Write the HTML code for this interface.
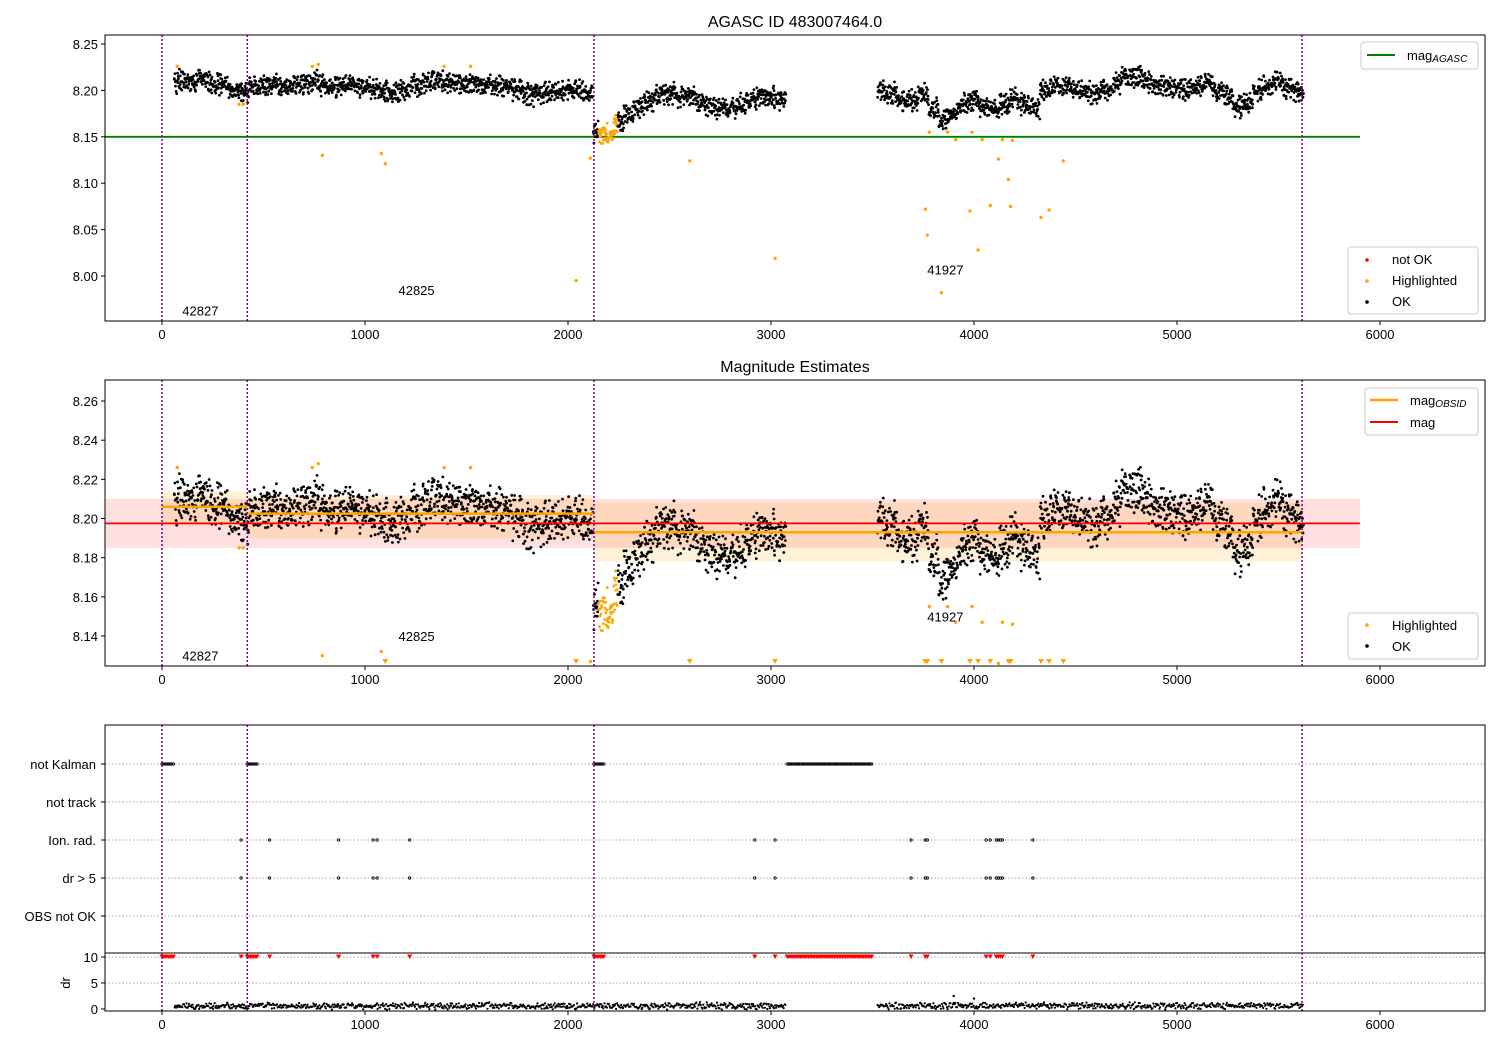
<!DOCTYPE html>
<html><head><meta charset="utf-8"><style>
body{margin:0;background:#fff;}
svg{font-family:"Liberation Sans","DejaVu Sans",sans-serif;}
</style></head><body>
<svg id="chart" width="1500" height="1050" xmlns="http://www.w3.org/2000/svg">
<rect width="1500" height="1050" fill="#fff"/>
</svg>
<script>
// ---- data ----
const knotX = [50,100,150,200,250,300,350,400,450,500,550,600,650,700,750,800,850,900,950,1000,1050,1100,1150,1200,1250,1300,1350,1400,1450,1500,1550,1600,1650,1700,1750,1800,1850,1900,1950,2000,2050,2100,2150,2200,2250,2300,2350,2400,2450,2500,2550,2600,2650,2700,2750,2800,2850,2900,2950,3000,3050,3550,3600,3650,3700,3750,3800,3850,3900,3950,4000,4050,4100,4150,4200,4250,4300,4350,4400,4450,4500,4550,4600,4650,4700,4750,4800,4850,4900,4950,5000,5050,5100,5150,5200,5250,5300,5350,5400,5450,5500,5550,5600];
const knotMag = [8.208,8.210,8.209,8.210,8.208,8.206,8.200,8.199,8.203,8.205,8.206,8.204,8.206,8.208,8.210,8.206,8.203,8.205,8.206,8.203,8.200,8.200,8.199,8.202,8.205,8.208,8.210,8.210,8.207,8.208,8.207,8.205,8.204,8.203,8.200,8.196,8.195,8.197,8.199,8.200,8.199,8.197,8.155,8.152,8.165,8.175,8.182,8.188,8.196,8.197,8.193,8.196,8.188,8.185,8.180,8.182,8.185,8.190,8.192,8.193,8.190,8.200,8.196,8.190,8.190,8.195,8.180,8.168,8.175,8.185,8.188,8.182,8.180,8.185,8.192,8.185,8.180,8.200,8.205,8.203,8.200,8.198,8.196,8.200,8.208,8.215,8.214,8.210,8.205,8.203,8.202,8.200,8.205,8.208,8.200,8.195,8.182,8.185,8.200,8.205,8.207,8.203,8.198];
const highlightRange = [2150, 2245];
const outlierX = [75,740,770,790,1080,1100,1390,1520,2040,2600,3020,3760,3770,3780,3840,3870,3910,3980,3990,4020,4040,4080,4120,4140,4170,4180,4190,4330,4370,4440,380,400,2110];
const outlierMag = [8.226,8.226,8.228,8.130,8.132,8.121,8.226,8.226,7.995,8.124,8.019,8.072,8.044,8.155,7.982,8.155,8.147,8.070,8.155,8.028,8.147,8.076,8.126,8.147,8.104,8.075,8.146,8.063,8.071,8.124,8.185,8.185,8.127];
const obsStart = [0,420,2128];
const obsEnd = [420,2128,5620];
const obsMag = [8.206,8.2025,8.193];
const obsLo = [8.196,8.190,8.178];
const obsHi = [8.214,8.212,8.208];
const obsIds = ["42827","42825","41927"];
const obsLabelX = [100,1165,3770];
const obsLabelMag1 = [7.963,7.985,8.007];
const obsLabelMag2 = [8.130,8.140,8.150];
const agascMag = 8.15;
const meanMag = 8.1975, meanLo = 8.185, meanHi = 8.21;
const kalmanStart = [0,420,2128,3080];
const kalmanEnd = [60,470,2180,3500];
const ionX = [390,530,870,1040,1060,1220,2920,3020,3690,3760,3770,4060,4080,4110,4120,4130,4140,4290];
const drBigX = [3900,4000];
const drBigV = [2.5,2.0];
const categories = ["not Kalman","not track","Ion. rad.","dr > 5","OBS not OK"];
const xTicks = [0,1000,2000,3000,4000,5000,6000];
const y1Ticks = [8.00,8.05,8.10,8.15,8.20,8.25];
const y2Ticks = [8.14,8.16,8.18,8.20,8.22,8.24,8.26];
const drTicks = [0,5,10];

// ---- scales ----
const L=105,R=1485;
const xs = v => 162 + v*0.203;
const y1 = v => 276 - (v-8.00)*928;
const y2 = v => 636 - (v-8.14)*1958.3;
const yc = i => 764 + i*38;
const yd = v => 1009 - v*5.2;
const svg = document.getElementById('chart');
const NS='http://www.w3.org/2000/svg';
function mk(tag, attrs, parent){const e=document.createElementNS(NS,tag);for(const k in attrs)e.setAttribute(k,attrs[k]);(parent||svg).appendChild(e);return e;}
function txt(s,x,y,attrs,parent){const e=mk('text',Object.assign({x:x,y:y,'font-size':13,fill:'#000'},attrs||{}),parent);e.textContent=s;return e;}
function h(k){const s=Math.sin(k*12.9898+78.233)*43758.5453;return s-Math.floor(s);}
function noise(k){return (h(k)+h(k+101.7))-1;} // deterministic texture in [-1,1]

const defs=mk('defs',{});
[[35,321,'c1'],[380,666,'c2'],[725,1011,'c3']].forEach(a=>{const cp=mk('clipPath',{id:a[2]},defs);mk('rect',{x:L,y:a[0],width:R-L,height:a[1]-a[0]},cp);});

function xAxis(top,bottom){
  xTicks.forEach(t=>{const x=xs(t);mk('line',{x1:x,x2:x,y1:bottom,y2:bottom+4,stroke:'#000'});
    const e=txt(String(t),x,bottom+18,{'text-anchor':'middle'});});
}
function vlines(top,bottom,g){
  [0,420,2128,5616].forEach(v=>mk('line',{x1:xs(v),x2:xs(v),y1:top,y2:bottom,stroke:'purple','stroke-width':1.5,'stroke-dasharray':'2,2'},g));
}
function drawScatter(g,ys,r){
  knotX.forEach((kx,i)=>{
    const n = 30;
    for(let s=0;s<n;s++){
      const xv=kx-25+s*(50/n)+ (h(i*97+s)-0.5)*1.5;
      if(xv<60) continue;
      const k=i*131+s*7.3;
      const v=knotMag[i]+0.0135*noise(k);
      const hl = xv>=highlightRange[0]&&xv<=highlightRange[1];
      mk('circle',{cx:xs(xv).toFixed(1),cy:ys(v).toFixed(1),r:r,fill:hl?'orange':'#000'},g);
    }
  });
}

// ====== Panel 1 ======
const g1=mk('g',{'clip-path':'url(#c1)'});


mk('line',{x1:xs(-281),x2:xs(5901),y1:y1(agascMag),y2:y1(agascMag),stroke:'green','stroke-width':1.8},g1);
drawScatter(g1,y1,1.4);
outlierX.forEach((x,i)=>{const c=mk('circle',{cx:xs(x),cy:y1(outlierMag[i]),r:1.7,fill:'orange'},g1);});
vlines(35,321,g1);
obsIds.forEach((s,i)=>txt(s,xs(obsLabelX[i]),y1(obsLabelMag1[i])+5,{},g1));
mk('rect',{x:L,y:35,width:R-L,height:286,fill:'none',stroke:'#000'});
y1Ticks.forEach(t=>{const y=y1(t);mk('line',{x1:L-4,x2:L,y1:y,y2:y,stroke:'#000'});txt(t.toFixed(2),L-7,y+5,{'text-anchor':'end'});});
xAxis(35,321);
txt('AGASC ID 483007464.0',795,27,{'text-anchor':'middle','font-size':16});
let lg=mk('g',{});
mk('rect',{x:1361,y:42,width:117,height:27,rx:3,fill:'#fff',stroke:'#ccc'},lg);
mk('line',{x1:1367,x2:1395,y1:55,y2:55,stroke:'green','stroke-width':2},lg);
let t=txt('mag',1407,60,{},lg);let ts=mk('tspan',{'font-size':10,'font-style':'italic',dy:2},t);ts.textContent='AGASC';
lg=mk('g',{});
mk('rect',{x:1348,y:247,width:130,height:67,rx:3,fill:'#fff',stroke:'#ccc'},lg);
[['not OK','red'],['Highlighted','orange'],['OK','#000']].forEach((a,i)=>{mk('circle',{cx:1367,cy:260+i*21,r:1.8,fill:a[1]},lg);txt(a[0],1392,264+i*21,{},lg);});

// ====== Panel 2 ======
const g2=mk('g',{'clip-path':'url(#c2)'});


mk('rect',{x:xs(-281),y:y2(meanHi),width:xs(5901)-xs(-281),height:y2(meanLo)-y2(meanHi),fill:'red','fill-opacity':0.12},g2);
obsStart.forEach((s,i)=>{mk('rect',{x:xs(s),y:y2(obsHi[i]),width:xs(obsEnd[i])-xs(s),height:y2(obsLo[i])-y2(obsHi[i]),fill:'orange','fill-opacity':0.15},g2);});
drawScatter(g2,y2,1.4);
outlierX.forEach((x,i)=>{
  const v=outlierMag[i];
  if(v<8.1247){const X=xs(x),Y=664;const p=mk('polygon',{points:`${X-3},${Y-5} ${X+3},${Y-5} ${X},${Y}`,fill:'orange'},g2);}
  else{mk('circle',{cx:xs(x),cy:y2(v),r:1.7,fill:'orange'},g2);}
});
obsStart.forEach((s,i)=>{const l=mk('line',{x1:xs(s),x2:xs(obsEnd[i]),y1:y2(obsMag[i]),y2:y2(obsMag[i]),stroke:'orange','stroke-width':2.5},g2);});
mk('line',{x1:xs(-281),x2:xs(5901),y1:y2(meanMag),y2:y2(meanMag),stroke:'red','stroke-width':1.8},g2);
vlines(380,666,g2);
obsIds.forEach((s,i)=>txt(s,xs(obsLabelX[i]),y2(obsLabelMag2[i])+5,{},g2));
mk('rect',{x:L,y:380,width:R-L,height:286,fill:'none',stroke:'#000'});
y2Ticks.forEach(t=>{const y=y2(t);mk('line',{x1:L-4,x2:L,y1:y,y2:y,stroke:'#000'});txt(t.toFixed(2),L-7,y+5,{'text-anchor':'end'});});
xAxis(380,666);
txt('Magnitude Estimates',795,372,{'text-anchor':'middle','font-size':16});
lg=mk('g',{});
mk('rect',{x:1365,y:388,width:113,height:47,rx:3,fill:'#fff',stroke:'#ccc'},lg);
mk('line',{x1:1370,x2:1398,y1:400,y2:400,stroke:'orange','stroke-width':2.5},lg);
t=txt('mag',1410,405,{},lg);ts=mk('tspan',{'font-size':10,'font-style':'italic',dy:2},t);ts.textContent='OBSID';
mk('line',{x1:1370,x2:1398,y1:422,y2:422,stroke:'red','stroke-width':2},lg);
txt('mag',1410,427,{},lg);
lg=mk('g',{});
mk('rect',{x:1348,y:613,width:130,height:46,rx:3,fill:'#fff',stroke:'#ccc'},lg);
[['Highlighted','orange'],['OK','#000']].forEach((a,i)=>{mk('circle',{cx:1367,cy:625+i*21,r:1.8,fill:a[1]},lg);txt(a[0],1392,630+i*21,{},lg);});

// ====== Panel 3 ======
const g3=mk('g',{'clip-path':'url(#c3)'});


categories.forEach((c,i)=>{mk('line',{x1:L,x2:R,y1:yc(i),y2:yc(i),stroke:'#aaa','stroke-dasharray':'1.5,2'},g3);
  const e=txt(c,96,yc(i)+5,{'text-anchor':'end'});});
[5,10].forEach(v=>mk('line',{x1:L,x2:R,y1:yd(v),y2:yd(v),stroke:'#aaa','stroke-dasharray':'1.5,2'},g3));
mk('line',{x1:L,x2:R,y1:953,y2:953,stroke:'#000'},g3);
function tri(X,Y,g){mk('polygon',{points:`${X-2.5},${Y-2.5} ${X+2.5},${Y-2.5} ${X},${Y+2}`,fill:'red'},g);}
kalmanStart.forEach((s,i)=>{for(let x=s;x<=kalmanEnd[i];x+=8){mk('circle',{cx:xs(x),cy:yc(0),r:1.2,fill:'none',stroke:'#000','stroke-width':0.8},g3);tri(xs(x),yd(10),g3);}});
ionX.forEach(x=>{[2,3].forEach(i=>mk('circle',{cx:xs(x),cy:yc(i),r:1.2,fill:'none',stroke:'#000','stroke-width':0.8},g3));tri(xs(x),yd(10),g3);});
knotX.forEach((kx,i)=>{for(let s=0;s<12;s++){const xv=kx-25+s*(50/12)+(h(i*53+s)-0.5)*2;if(xv<60)continue;const v=0.6+0.75*noise(i*71+s*3.1);
  mk('circle',{cx:xs(xv).toFixed(1),cy:yd(v).toFixed(1),r:1.1,fill:'#000'},g3);}});
drBigX.forEach((x,i)=>mk('circle',{cx:xs(x),cy:yd(drBigV[i]),r:1.2,fill:'#000'},g3));
vlines(725,1011,g3);
mk('rect',{x:L,y:725,width:R-L,height:286,fill:'none',stroke:'#000'});
drTicks.forEach(t=>{const y=yd(t);mk('line',{x1:L-4,x2:L,y1:y,y2:y,stroke:'#000'});txt(String(t),L-7,y+5,{'text-anchor':'end'});});
categories.forEach((c,i)=>mk('line',{x1:L-4,x2:L,y1:yc(i),y2:yc(i),stroke:'#000'}));
txt('dr',70,983,{'text-anchor':'middle',transform:'rotate(-90 70 983)'});
xAxis(725,1011);
</script>
</body></html>
